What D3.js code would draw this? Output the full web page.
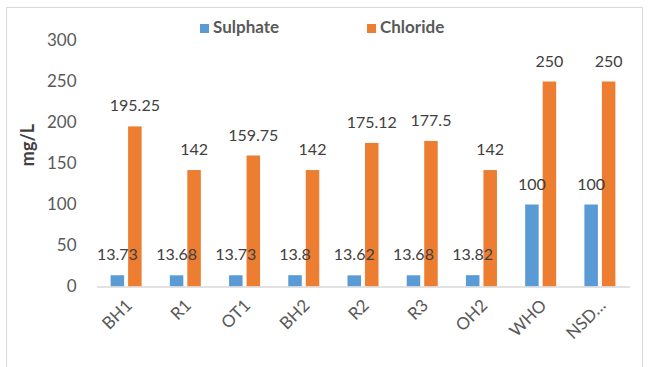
<!DOCTYPE html>
<html>
<head>
<meta charset="utf-8">
<script src="https://cdn.jsdelivr.net/npm/d3@7"></script>
<style>
  html, body { margin: 0; padding: 0; background: #fff; }
  svg { display: block; }
  text { font-family: Lato, "Open Sans", sans-serif; }
</style>
</head>
<body>
<svg id="chart" width="650" height="367"></svg>
<script>
const categories = ["BH1", "R1", "OT1", "BH2", "R2", "R3", "OH2", "WHO", "NSD…"];
const sulphate = [13.73, 13.68, 13.73, 13.8, 13.62, 13.68, 13.82, 100, 100];
const chloride = [195.25, 142, 159.75, 142, 175.12, 177.5, 142, 250, 250];
const seriesNames = ["Sulphate", "Chloride"];
const seriesColors = ["#5b9bd5", "#ed7d31"];
const yTicks = [0, 50, 100, 150, 200, 250, 300];

const svg = d3.select("#chart");

// chart frame
svg.append("rect")
  .attr("x", 6.5).attr("y", 7.5)
  .attr("width", 636).attr("height", 370)
  .attr("fill", "#fff").attr("stroke", "#d9d9d9").attr("stroke-width", 1);

const plot = { left: 96.5, right: 629.5, top: 40.5, bottom: 286.5 };

const x = d3.scaleBand().domain(categories).range([plot.left, plot.right]).padding(0);
const y = d3.scaleLinear().domain([0, 300]).range([plot.bottom, plot.top]);

const barW = 13.5, gap = 2;

// y tick labels (no axis line)
const yAxis = d3.axisLeft(y).tickValues(yTicks).tickSize(0).tickPadding(0);
const gy = svg.append("g").attr("transform", `translate(${plot.left - 20},0)`).call(yAxis);
gy.select(".domain").remove();
gy.selectAll("text")
  .attr("fill", "#595959").attr("font-size", 17).attr("text-anchor", "end");

// y title
svg.append("text")
  .attr("transform", `translate(34,145) rotate(-90)`)
  .attr("text-anchor", "middle")
  .attr("font-size", 18).attr("font-weight", "bold").attr("fill", "#404040")
  .text("mg/L");

// bars first, then all value labels on top
const series = [sulphate, chloride];
const offsets = [-gap - barW, gap];
series.forEach((vals, si) => {
  svg.append("g").selectAll("rect").data(vals).join("rect")
    .attr("x", (d, i) => x(categories[i]) + x.bandwidth() / 2 + offsets[si])
    .attr("width", barW)
    .attr("y", d => y(d))
    .attr("height", d => y(0) - y(d))
    .attr("fill", seriesColors[si]);
});
series.forEach((vals, si) => {
  svg.append("g").selectAll("text").data(vals).join("text")
    .attr("x", (d, i) => x(categories[i]) + x.bandwidth() / 2 + offsets[si] + barW / 2)
    .attr("y", d => y(d) - 15)
    .attr("text-anchor", "middle")
    .attr("font-size", 16).attr("fill", "#404040")
    .text(d => d);
});

// x axis baseline and rotated labels
const xAxis = d3.axisBottom(x).tickSize(0).tickPadding(0);
const gx = svg.append("g").attr("transform", `translate(0,${plot.bottom})`).call(xAxis);
gx.select(".domain").attr("stroke", "#d9d9d9").attr("stroke-width", 1.5);
gx.selectAll("text")
  .attr("fill", "#595959").attr("font-size", 17)
  .attr("text-anchor", "end")
  .attr("dy", 0)
  .attr("transform", "translate(7,20) rotate(-45)");

// legend
const legendX = [200, 367];
seriesNames.forEach((n, i) => {
  svg.append("rect").attr("x", legendX[i]).attr("y", 24).attr("width", 9).attr("height", 9)
    .attr("fill", seriesColors[i]);
  svg.append("text").attr("x", legendX[i] + 13).attr("y", 33)
    .attr("font-size", 17).attr("font-weight", "bold").attr("fill", "#595959")
    .text(n);
});
</script>
</body>
</html>
